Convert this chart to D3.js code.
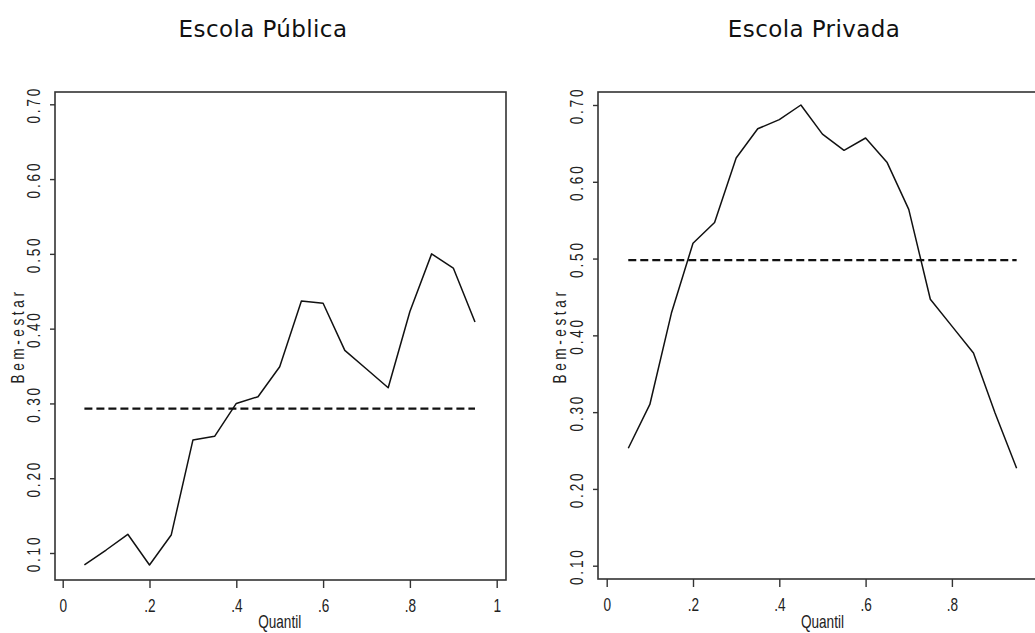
<!DOCTYPE html>
<html>
<head>
<meta charset="utf-8">
<script src="https://cdn.jsdelivr.net/npm/d3@7"></script>
<style>
  html, body { margin: 0; padding: 0; background: #fff; }
  svg { display: block; }
</style>
</head>
<body>
<svg id="chart" width="1035" height="633"></svg>
<script>
// ---------------- DATA ----------------
const quantis = [0.05, 0.10, 0.15, 0.20, 0.25, 0.30, 0.35, 0.40, 0.45, 0.50,
                 0.55, 0.60, 0.65, 0.70, 0.75, 0.80, 0.85, 0.90, 0.95];
const bemEstarPublica = [0.084, 0.104, 0.125, 0.084, 0.124, 0.251, 0.256, 0.300, 0.309, 0.349,
                         0.437, 0.434, 0.371, 0.346, 0.321, 0.423, 0.500, 0.481, 0.409];
const bemEstarPrivada = [0.253, 0.310, 0.429, 0.520, 0.547, 0.631, 0.669, 0.681, 0.700, 0.662,
                         0.641, 0.657, 0.625, 0.564, 0.447, 0.412, 0.377, 0.299, 0.227];
const mediaPublica = 0.293;
const mediaPrivada = 0.498;
const yTicks = [0.10, 0.20, 0.30, 0.40, 0.50, 0.60, 0.70];
const xTicksPublica = [0, 0.2, 0.4, 0.6, 0.8, 1];
const xTicksPrivada = [0, 0.2, 0.4, 0.6, 0.8];
const titles = ["Escola Pública", "Escola Privada"];
const xLabel = "Quantil";
const yLabel = "Bem-estar";

// ---------------- LAYOUT ----------------
const svg = d3.select("#chart");
const narrow = "'Liberation Sans', Arial, sans-serif";
const SX = 0.8, SY = 1.13;   // condensed, slightly tall lettering

const panels = [
  { title: titles[0], titleX: 263, values: bemEstarPublica, mean: mediaPublica, xTicks: xTicksPublica,
    frame: { l: 55, t: 92, r: 506, b: 580 },
    xRange: [62.7, 496.7], yRange: [553, 104.3], yLabelX: 18 },
  { title: titles[1], titleX: 814, values: bemEstarPrivada, mean: mediaPrivada, xTicks: xTicksPrivada,
    frame: { l: 598, t: 92, r: 1047, b: 579 },
    xRange: [606.7, 1038.2], yRange: [565.7, 105], yLabelX: 560 }
];

const fmtX = d => d === 0 ? "0" : d === 1 ? "1" : d3.format(".1f")(d).replace(/^0/, "");
const fmtY = d3.format(".2f");

panels.forEach(p => {
  const x = d3.scaleLinear().domain([0, 1]).range(p.xRange);
  const y = d3.scaleLinear().domain([0.1, 0.7]).range(p.yRange);
  const g = svg.append("g");
  const f = p.frame;

  // title
  g.append("text")
    .attr("x", p.titleX).attr("y", 37)
    .attr("text-anchor", "middle")
    .style("font-family", "'DejaVu Sans', Verdana, sans-serif")
    .style("font-size", "23px")
    .style("letter-spacing", "0.4px")
    .style("fill", "#111")
    .text(p.title);

  // frame
  g.append("rect")
    .attr("x", f.l).attr("y", f.t)
    .attr("width", f.r - f.l).attr("height", f.b - f.t)
    .attr("fill", "none").attr("stroke", "#333").attr("stroke-width", 1.6);

  // y axis
  const ya = g.append("g")
    .attr("transform", `translate(${f.l},0)`)
    .call(d3.axisLeft(y).tickValues(yTicks).tickFormat(fmtY).tickSize(5).tickPadding(0));
  ya.select(".domain").remove();
  ya.selectAll(".tick line").attr("stroke", "#333").attr("stroke-width", 1.4);
  ya.selectAll(".tick text")
    .attr("transform", `rotate(-90) scale(${SX},${SY})`)
    .attr("x", 0).attr("y", -21 / SY).attr("dy", null)
    .attr("text-anchor", "middle")
    .attr("dominant-baseline", "central")
    .style("font-family", narrow)
    .style("font-size", "17px")
    .style("letter-spacing", "3.5px")
    .style("fill", "#222");

  // x axis
  const xa = g.append("g")
    .attr("transform", `translate(0,${f.b})`)
    .call(d3.axisBottom(x).tickValues(p.xTicks).tickFormat(fmtX).tickSize(8).tickPadding(0));
  xa.select(".domain").remove();
  xa.selectAll(".tick line").attr("stroke", "#333").attr("stroke-width", 1.4);
  xa.selectAll(".tick text")
    .attr("transform", `scale(${SX},${SY})`)
    .attr("y", 32 / SY).attr("dy", null)
    .style("font-family", narrow)
    .style("font-size", "17px")
    .style("fill", "#222");

  // axis labels
  g.append("text")
    .attr("transform", `translate(${x(0.5)},628) scale(${SX},${SY})`)
    .attr("text-anchor", "middle")
    .style("font-family", narrow)
    .style("font-size", "17px")
    .style("fill", "#222")
    .text(xLabel);

  g.append("text")
    .attr("transform", `translate(${p.yLabelX},336) rotate(-90) scale(${SX},${SY})`)
    .attr("text-anchor", "middle")
    .attr("dominant-baseline", "central")
    .style("font-family", narrow)
    .style("font-size", "17px")
    .style("letter-spacing", "4.5px")
    .style("fill", "#222")
    .text(yLabel);

  // mean dashed line
  g.append("line")
    .attr("x1", x(quantis[0])).attr("x2", x(quantis[quantis.length - 1]))
    .attr("y1", y(p.mean)).attr("y2", y(p.mean))
    .attr("stroke", "#111").attr("stroke-width", 2.2)
    .attr("stroke-dasharray", "8,4");

  // series line
  const line = d3.line().x((d, i) => x(quantis[i])).y(d => y(d));
  g.append("path")
    .datum(p.values)
    .attr("d", line)
    .attr("fill", "none")
    .attr("stroke", "#111")
    .attr("stroke-width", 1.5)
    .attr("stroke-linejoin", "round");
});
</script>
</body>
</html>
